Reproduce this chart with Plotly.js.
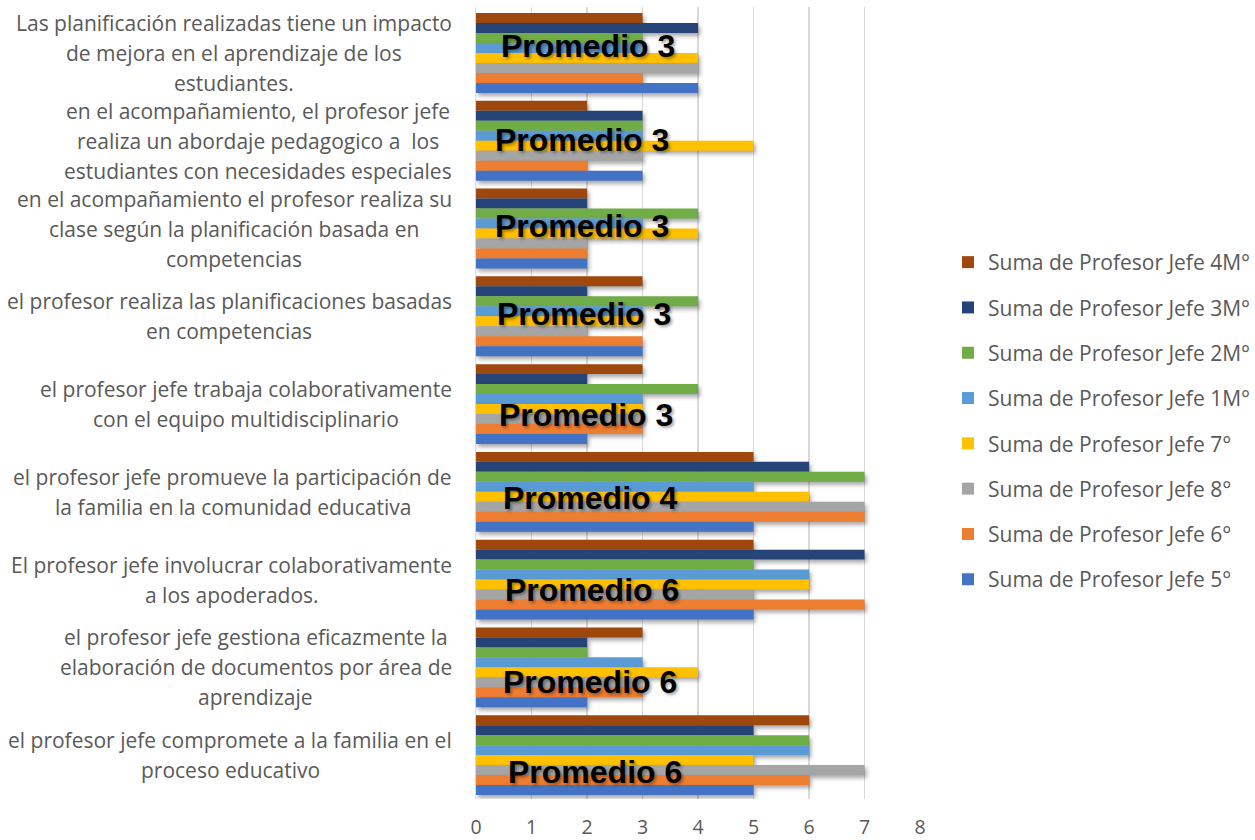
<!DOCTYPE html>
<html>
<head>
<meta charset="utf-8">
<script src="https://cdn.plot.ly/plotly-3.0.1.min.js"></script>
<style>
html,body{margin:0;padding:0;background:#fff;}
#chart{width:1255px;height:840px;}
#chart .barlayer .point path{filter:drop-shadow(2px 3px 2px rgba(0,0,0,0.35));}
</style>
</head>
<body>
<div id="chart"></div>
<script>
// Categories, top to bottom as read on the chart
const categories = [
  "Las planificación realizadas tiene un impacto<br>de mejora en el aprendizaje de los<br>estudiantes.",
  "en el acompañamiento, el profesor jefe<br>realiza un abordaje pedagogico a  los<br>estudiantes con necesidades especiales",
  "en el acompañamiento el profesor realiza su<br>clase según la planificación basada en<br>competencias",
  "el profesor realiza las planificaciones basadas<br>en competencias",
  "el profesor jefe trabaja colaborativamente<br>con el equipo multidisciplinario",
  "el profesor jefe promueve la participación de<br>la familia en la comunidad educativa",
  "El profesor jefe involucrar colaborativamente<br>a los apoderados.",
  "el profesor jefe gestiona eficazmente la<br>elaboración de documentos por área de<br>aprendizaje",
  "el profesor jefe compromete a la familia en el<br>proceso educativo"
];
const promedioLabels = ["Promedio 3","Promedio 3","Promedio 3","Promedio 3","Promedio 3","Promedio 4","Promedio 6","Promedio 6","Promedio 6"];

const seriesNames = [
  "Suma de Profesor Jefe 4M°",
  "Suma de Profesor Jefe 3M°",
  "Suma de Profesor Jefe 2M°",
  "Suma de Profesor Jefe 1M°",
  "Suma de Profesor Jefe 7°",
  "Suma de Profesor Jefe 8°",
  "Suma de Profesor Jefe 6°",
  "Suma de Profesor Jefe 5°"
];
const jefe4M = [3,2,2,3,3,5,5,3,6];
const jefe3M = [4,3,2,2,2,6,7,2,5];
const jefe2M = [3,3,4,4,4,7,5,2,6];
const jefe1M = [3,3,3,3,3,5,6,3,6];
const jefe7  = [4,5,4,3,3,6,6,4,5];
const jefe8  = [4,3,2,2,3,7,5,3,7];
const jefe6  = [3,2,2,3,3,7,7,3,6];
const jefe5  = [4,3,2,3,2,5,5,2,5];
const xTicks = [0,1,2,3,4,5,6,7,8];

// styling
const colors = ["#9E480E","#264478","#70AD47","#5B9BD5","#FFC000","#A5A5A5","#ED7D31","#4472C4"];
const seriesValues = [jefe4M, jefe3M, jefe2M, jefe1M, jefe7, jefe8, jefe6, jefe5];
const promYShift = [7, 1, 3, 2, -11, -6, -10, -15, -17];
const promX = [2.02, 1.91, 1.91, 1.95, 1.98, 2.05, 2.09, 2.05, 2.14];

const labelFont = "Open Sans";
const labelSize = 21;
const lineStep = 30;
const labelRightPx = 452;
const plotLeft = 476, plotRight = 920;

const traces = seriesNames.map((n, i) => ({
  type: "bar",
  orientation: "h",
  name: n,
  legendgroup: "g" + i,
  x: seriesValues[i],
  y: categories,
  marker: {color: colors[i], line: {width: 0}},
  hoverinfo: "x+name"
}));

// measure text for centered multi-line labels
const cv = document.createElement("canvas").getContext("2d");
cv.font = labelSize + "px '" + labelFont + "'";
const annotations = [];
categories.forEach((cat) => {
  const lines = cat.split("<br>");
  const w = Math.max(...lines.map(l => cv.measureText(l).width));
  const centerPx = labelRightPx - w / 2;
  const xp = (centerPx - plotLeft) / (plotRight - plotLeft);
  lines.forEach((l, i) => {
    annotations.push({
      xref: "paper", yref: "y", x: xp, y: cat,
      text: l, showarrow: false, xanchor: "center", yanchor: "middle",
      yshift: ((lines.length - 1) / 2 - i) * lineStep,
      font: {family: labelFont, size: labelSize, color: "#595959"}
    });
  });
});
promedioLabels.forEach((t, i) => {
  annotations.push({
    xref: "x", yref: "y", x: promX[i], y: categories[i],
    text: t, showarrow: false, xanchor: "center", yanchor: "middle",
    yshift: promYShift[i],
    font: {family: "Liberation Sans, Arial, sans-serif", size: 32, color: "#000", weight: 700,
           shadow: "2px 2px 3px rgba(0,0,0,0.35)"}
  });
});

const layout = {
  width: 1255, height: 840,
  margin: {l: plotLeft, r: 1255 - plotRight, t: 7, b: 41, pad: 0, autoexpand: false},
  paper_bgcolor: "#fff", plot_bgcolor: "#fff",
  barmode: "group", bargap: 0.09, bargroupgap: 0,
  showlegend: true,
  legend: {
    x: (948 - plotLeft) / (plotRight - plotLeft), xanchor: "left",
    y: (799 - 242) / 792, yanchor: "top",
    traceorder: "grouped", tracegroupgap: 15,
    font: {family: labelFont, size: labelSize, color: "#595959"},
    bgcolor: "rgba(0,0,0,0)"
  },
  xaxis: {
    range: [0, 8], tickvals: xTicks, ticktext: xTicks.map(String),
    showgrid: true, gridcolor: "#D9D9D9", gridwidth: 1.5,
    zeroline: false, showline: false, ticks: "",
    ticklabelstandoff: 14,
    tickfont: {family: labelFont, size: 19.5, color: "#595959"},
    fixedrange: true
  },
  yaxis: {
    type: "category", autorange: "reversed",
    showticklabels: false, ticks: "", showgrid: false, zeroline: false,
    showline: true, linecolor: "#D9D9D9", linewidth: 1.5,
    fixedrange: true
  },
  annotations: annotations
};

Plotly.newPlot("chart", traces, layout, {displayModeBar: false, staticPlot: true});
</script>
</body>
</html>
